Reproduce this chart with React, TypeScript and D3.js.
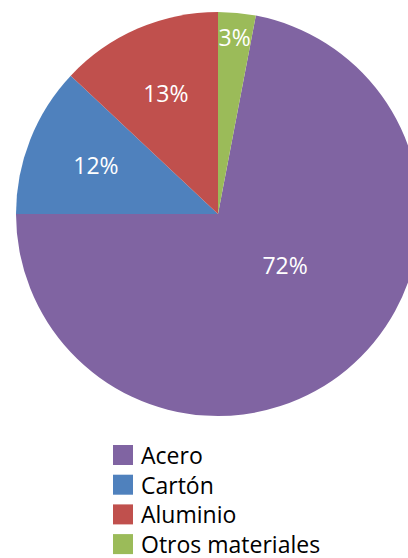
import React from "react";
import * as d3 from "d3";

const categories = ["Acero", "Cartón", "Aluminio", "Otros materiales"];
const values = [72, 12, 13, 3];
const labels = ["72%", "12%", "13%", "3%"];
const colors = ["#8064A2", "#4F81BD", "#C0504D", "#9BBB59"];

const W = 408;
const H = 558;
const cx = 218;
const cy = 214;
const R = 202;
const FONT = "'Open Sans', 'Noto Sans', sans-serif";

export default function App() {
  const total = d3.sum(values);
  const start = (values[3] / total) * 2 * Math.PI;
  const pie = d3
    .pie<number>()
    .sort(null)
    .value((d) => d)
    .startAngle(start)
    .endAngle(start + 2 * Math.PI);
  const arcs = pie(values);
  const arc = d3.arc<d3.PieArcDatum<number>>().innerRadius(0).outerRadius(R);

  const labelPos = (a: d3.PieArcDatum<number>) => {
    const frac = a.value / total;
    let r = R * 0.65;
    let mid = (a.startAngle + a.endAngle) / 2;
    if (frac < 0.05) r = R * 0.875;
    if (frac > 0.5) {
      r = R * 0.42;
      mid = mid - 0.22;
    }
    return [Math.sin(mid) * r, -Math.cos(mid) * r];
  };

  return (
    <svg
      width={W}
      height={H}
      style={{ position: "fixed", top: 0, left: 0, background: "#fff" }}
    >
      <g transform={`translate(${cx},${cy})`}>
        {arcs.map((a, i) => (
          <path key={i} d={arc(a) || ""} fill={colors[i]} />
        ))}
        {arcs.map((a, i) => {
          const [x, y] = labelPos(a);
          return (
            <text
              key={i}
              x={x}
              y={y}
              dy="0.35em"
              textAnchor="middle"
              fill="#fff"
              fontFamily={FONT}
              fontSize={23}
            >
              {labels[i]}
            </text>
          );
        })}
      </g>
      <g transform="translate(113,445)">
        {categories.map((c, i) => (
          <g key={c} transform={`translate(0,${i * 29.7})`}>
            <rect width={20} height={20} fill={colors[i]} />
            <text
              x={28}
              y={19}
              fill="#000"
              fontFamily={FONT}
              fontSize={23}
            >
              {c}
            </text>
          </g>
        ))}
      </g>
    </svg>
  );
}
